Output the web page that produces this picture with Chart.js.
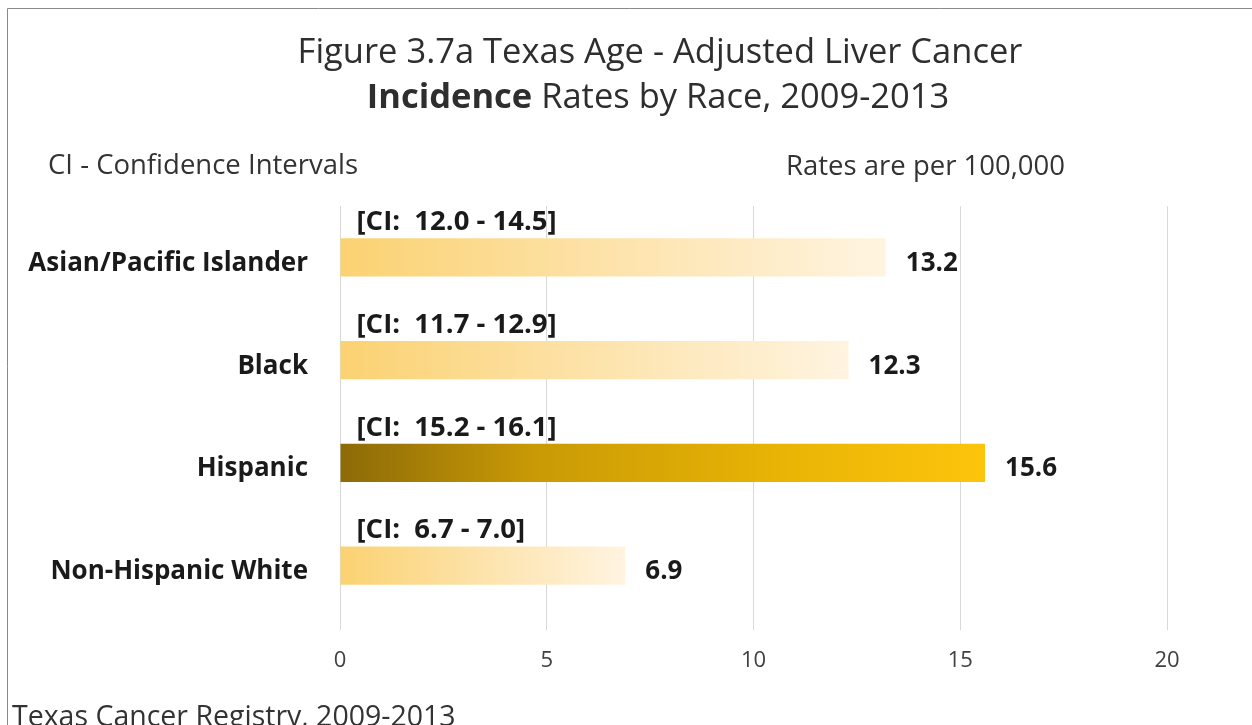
<!DOCTYPE html>
<html>
<head>
<meta charset="utf-8">
<script src="https://cdn.jsdelivr.net/npm/chart.js@4"></script>
<style>
  html, body { margin: 0; padding: 0; background: #fff; }
  #wrap { width: 1252px; height: 725px; }
</style>
</head>
<body>
<div id="wrap"><canvas id="liver-chart" width="1252" height="725"></canvas></div>
<script>
const categories = ['Asian/Pacific Islander', 'Black', 'Hispanic', 'Non-Hispanic White'];
const rates = [13.2, 12.3, 15.6, 6.9];
const ciLow = [12.0, 11.7, 15.2, 6.7];
const ciHigh = [14.5, 12.9, 16.1, 7.0];
const xTicks = [0, 5, 10, 15, 20];

const FONT = '"Open Sans", Lato, sans-serif';
const highlight = 'Hispanic';

function barFill(ctx) {
    const chart = ctx.chart;
    if (!chart.chartArea) return '#fcd274';
    const x = chart.scales.x;
    const x0 = x.getPixelForValue(0);
    const x1 = x.getPixelForValue(ctx.raw);
    const g = chart.ctx.createLinearGradient(x0, 0, x1, 0);
    if (categories[ctx.dataIndex] === highlight) {
        g.addColorStop(0, '#8c6a08');
        g.addColorStop(0.3, '#c99a05');
        g.addColorStop(0.7, '#eab505');
        g.addColorStop(1, '#fdc40c');
    } else {
        g.addColorStop(0, '#fbd272');
        g.addColorStop(0.5, '#fde3ab');
        g.addColorStop(1, '#fff4e1');
    }
    return g;
}

// frame, headings, CI notes and value labels
const annotations = {
    id: 'annotations',
    beforeDraw(chart) {
        const c = chart.ctx;
        c.save();
        c.fillStyle = '#fff';
        c.fillRect(0, 0, chart.width, chart.height);
        c.strokeStyle = '#8a8a8a';
        c.lineWidth = 1;
        c.beginPath();
        c.moveTo(7.5, chart.height);
        c.lineTo(7.5, 8.5);
        c.lineTo(chart.width, 8.5);
        c.stroke();
        c.restore();
    },
    afterDatasetsDraw(chart) {
        const c = chart.ctx;
        const meta = chart.getDatasetMeta(0);
        c.save();
        c.textBaseline = 'alphabetic';

        // title
        c.fillStyle = '#2e2e2e';
        c.textAlign = 'center';
        c.font = '34.5px ' + FONT;
        c.fillText('Figure 3.7a Texas Age - Adjusted Liver Cancer', 660, 63);
        const boldPart = 'Incidence';
        const restPart = ' Rates by Race, 2009-2013';
        c.font = 'bold 34.5px ' + FONT;
        const wb = c.measureText(boldPart).width;
        c.font = '34.5px ' + FONT;
        const wr = c.measureText(restPart).width;
        const start = 658 - (wb + wr) / 2;
        c.textAlign = 'left';
        c.font = 'bold 34.5px ' + FONT;
        c.fillText(boldPart, start, 108);
        c.font = '34.5px ' + FONT;
        c.fillText(restPart, start + wb, 108);

        // side notes
        c.fillStyle = '#333';
        c.font = '27.5px ' + FONT;
        c.fillText('CI - Confidence Intervals', 48, 174);
        c.textAlign = 'right';
        c.fillText('Rates are per 100,000', 1065, 175);
        c.textAlign = 'left';
        c.font = '28.5px ' + FONT;
        c.fillText('Texas Cancer Registry, 2009-2013', 12, 726);

        // CI and value labels
        c.fillStyle = '#1a1a1a';
        c.textBaseline = 'middle';
        meta.data.forEach((bar, i) => {
            c.textAlign = 'left';
            c.font = 'bold 27.5px ' + FONT;
            c.fillText('[CI:  ' + ciLow[i].toFixed(1) + ' - ' + ciHigh[i].toFixed(1) + ']',
                bar.base + 16, bar.y - 35);
            c.font = 'bold 26px ' + FONT;
            c.fillText(rates[i].toFixed(1), bar.x + 20, bar.y + 6);
        });
        c.restore();
    }
};

new Chart(document.getElementById('liver-chart').getContext('2d'), {
    type: 'bar',
    data: {
        labels: categories,
        datasets: [{
            label: 'Incidence rate',
            data: rates,
            backgroundColor: barFill,
            borderWidth: 0,
            barPercentage: 0.37,
            categoryPercentage: 1
        }]
    },
    options: {
        indexAxis: 'y',
        responsive: false,
        animation: false,
        layout: { padding: { top: 206, right: 85, bottom: 46, left: 0 } },
        plugins: {
            legend: { display: false },
            tooltip: { enabled: false }
        },
        scales: {
            x: {
                min: 0,
                max: 20,
                afterBuildTicks: (scale) => { scale.ticks = xTicks.map(v => ({ value: v })); },
                afterFit: (scale) => { scale.height = 62; },
                grid: { color: '#d9d9d9', lineWidth: 1, tickLength: 13 },
                border: { display: false },
                ticks: { padding: 18, color: '#404040', font: { family: FONT, size: 22 } }
            },
            y: {
                afterFit: (scale) => { scale.width = 340; },
                grid: { display: false, drawTicks: false },
                border: { display: false },
                ticks: {
                    padding: 32,
                    labelOffset: 6,
                    color: '#1a1a1a',
                    font: { family: FONT, size: 26, weight: 'bold' }
                }
            }
        }
    },
    plugins: [annotations]
});
</script>
</body>
</html>
